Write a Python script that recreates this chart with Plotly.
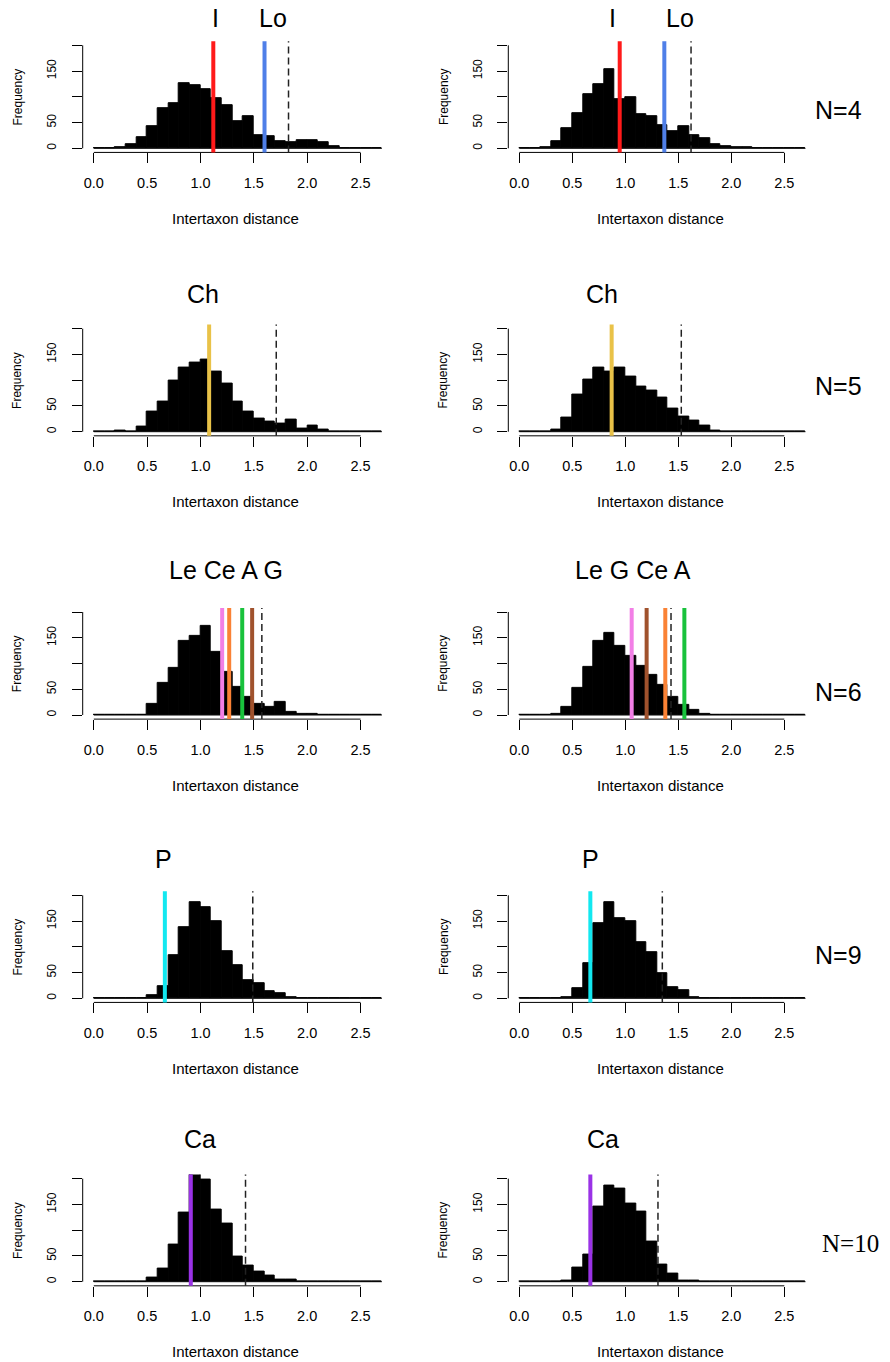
import plotly.graph_objects as go

# ---- data -------------------------------------------------------------
bin_edges = [0.0, 0.1, 0.2, 0.3, 0.4, 0.5, 0.6, 0.7, 0.8, 0.9, 1.0, 1.1, 1.2, 1.3,
             1.4, 1.5, 1.6, 1.7, 1.8, 1.9, 2.0, 2.1, 2.2, 2.3, 2.4, 2.5, 2.6, 2.7]

# counts per 0.1-wide bin (0.0-0.1 ... 2.6-2.7)
counts_n4_a = [0, 0, 2, 8, 21, 42, 77, 87, 126, 123, 114, 97, 83, 52, 63, 26, 24, 14, 11, 16, 16, 11, 5, 1, 0, 0, 0]
counts_n4_b = [0, 0, 2, 13, 40, 69, 105, 124, 153, 95, 100, 66, 63, 45, 34, 42, 26, 19, 8, 5, 2, 3, 0, 0, 0, 0, 0]
counts_n5_a = [0, 0, 2, 0, 9, 39, 59, 100, 125, 135, 141, 116, 94, 58, 40, 25, 19, 15, 23, 6, 11, 4, 0, 0, 0, 0, 0]
counts_n5_b = [0, 0, 1, 5, 27, 73, 102, 125, 117, 125, 108, 87, 79, 67, 44, 29, 22, 12, 2, 1, 0, 0, 0, 0, 0, 0, 0]
counts_n6_a = [0, 0, 0, 0, 1, 22, 63, 91, 143, 154, 174, 122, 84, 54, 35, 21, 15, 25, 7, 3, 3, 1, 0, 0, 0, 0, 0]
counts_n6_b = [0, 0, 0, 2, 16, 53, 93, 143, 159, 134, 114, 96, 78, 58, 35, 20, 9, 3, 0, 0, 0, 0, 0, 0, 0, 0, 0]
counts_n9_a = [0, 0, 0, 0, 0, 7, 24, 84, 139, 187, 177, 150, 92, 64, 35, 29, 13, 9, 3, 0, 0, 0, 0, 0, 0, 0, 0]
counts_n9_b = [0, 0, 0, 0, 2, 19, 68, 145, 186, 156, 150, 109, 90, 48, 21, 15, 3, 0, 0, 0, 0, 0, 0, 0, 0, 0, 0]
counts_n10_a = [0, 0, 0, 0, 0, 8, 25, 73, 134, 212, 199, 140, 112, 49, 32, 19, 11, 5, 4, 0, 0, 0, 0, 0, 0, 0, 0]
counts_n10_b = [0, 0, 0, 0, 2, 27, 53, 146, 186, 180, 151, 136, 78, 34, 16, 3, 2, 1, 0, 0, 0, 0, 0, 0, 0, 0, 0]

# observed taxon distances (label, value) per panel
taxa_n4_a = [("I", 1.12), ("Lo", 1.60)]
taxa_n4_b = [("I", 0.947), ("Lo", 1.368)]
taxa_n5_a = [("Ch", 1.081)]
taxa_n5_b = [("Ch", 0.871)]
taxa_n6_a = [("Le", 1.203), ("Ce", 1.269), ("A", 1.391), ("G", 1.484)]
taxa_n6_b = [("Le", 1.06), ("G", 1.201), ("Ce", 1.377), ("A", 1.557)]
taxa_n9_a = [("P", 0.666)]
taxa_n9_b = [("P", 0.67)]
taxa_n10_a = [("Ca", 0.909)]
taxa_n10_b = [("Ca", 0.67)]

# dashed threshold per panel
threshold = [1.825, 1.62, 1.71, 1.528, 1.575, 1.431, 1.49, 1.349, 1.422, 1.308]

titles_left = ["I", "Lo"], ["Ch"], ["Le Ce A G"], ["P"], ["Ca"]
titles_right = ["I", "Lo"], ["Ch"], ["Le G Ce A"], ["P"], ["Ca"]

row_labels = ["N=4", "N=5", "N=6", "N=9", "N=10"]

x_ticks = [0.0, 0.5, 1.0, 1.5, 2.0, 2.5]
y_ticks = [0, 50, 100, 150, 200]
y_ticktext = ["0", "50", "", "150", ""]

taxon_colors = {
    "I": "#FF1A1A", "Lo": "#4F7FE8", "Ch": "#E9C248", "Le": "#F27FE6",
    "Ce": "#FA8235", "A": "#19C23C", "G": "#A0522D", "P": "#12E8F0", "Ca": "#9A32E6",
}

# ---- layout geometry (pixels) ----------------------------------------
W, H = 890, 1362
FONT = "Liberation Sans"
col_axis_px = [82.7, 508.3]      # left edge of each column's plot region
col_unit_px = [106.7, 106.0]     # pixels per x unit
row_zero_px = [148.3, 431.7, 715.0, 998.3, 1281.7]  # y pixel of count 0
y_unit_px = 0.515                # pixels per count
XR = [-0.104, 2.704]
YR = [-8, 208]

title_pos = [
    ([215, 273], [612, 680], 18),
    ([203], [602], 294),
    ([226], [633], 570),
    ([163], [590], 859),
    ([200], [603], 1139),
]
label_pos = [(838, 110), (838, 386), (838, 692), (838, 955), (850, 1243)]

panels = [
    (counts_n4_a, taxa_n4_a), (counts_n4_b, taxa_n4_b),
    (counts_n5_a, taxa_n5_a), (counts_n5_b, taxa_n5_b),
    (counts_n6_a, taxa_n6_a), (counts_n6_b, taxa_n6_b),
    (counts_n9_a, taxa_n9_a), (counts_n9_b, taxa_n9_b),
    (counts_n10_a, taxa_n10_a), (counts_n10_b, taxa_n10_b),
]

bin_mids = [(a + b) / 2 for a, b in zip(bin_edges[:-1], bin_edges[1:])]


def px_x(p):
    return p / W


def px_y(p):
    return 1 - p / H


fig = go.Figure()
layout = dict(
    width=W, height=H, margin=dict(l=0, r=0, t=0, b=0),
    paper_bgcolor="white", plot_bgcolor="white", showlegend=False,
    font=dict(family=FONT, color="black"), bargap=0,
)
shapes, annotations = [], []

for i, (counts, taxa) in enumerate(panels):
    n = i + 1
    row, col = divmod(i, 2)
    xname = "x" if n == 1 else f"x{n}"
    yname = "y" if n == 1 else f"y{n}"
    xkey = "xaxis" if n == 1 else f"xaxis{n}"
    ykey = "yaxis" if n == 1 else f"yaxis{n}"

    x0 = col_axis_px[col]
    x1 = x0 + (XR[1] - XR[0]) * col_unit_px[col]
    zero = row_zero_px[row]
    top = zero - YR[1] * y_unit_px
    bot = zero - YR[0] * y_unit_px

    layout[xkey] = dict(
        domain=[px_x(x0), px_x(x1)], range=XR, anchor=yname,
        tickvals=x_ticks, ticktext=[f"{v:.1f}" for v in x_ticks],
        ticks="outside", ticklen=10, tickwidth=1, tickcolor="black",
        showline=False, showgrid=False, zeroline=False,
        tickfont=dict(size=14.5, family=FONT), ticklabelstandoff=7,
    )
    layout[ykey] = dict(
        domain=[px_y(bot), px_y(top)], range=YR, anchor=xname,
        tickvals=y_ticks, ticktext=y_ticktext, tickangle=-90,
        ticks="outside", ticklen=10, tickwidth=1, tickcolor="black",
        showline=False, showgrid=False, zeroline=False,
        tickfont=dict(size=12, family=FONT), ticklabelstandoff=11,
    )

    # histogram bars
    fig.add_trace(go.Bar(
        x=bin_mids, y=counts, width=0.1, xaxis=xname, yaxis=yname,
        marker=dict(color="black", line=dict(color="black", width=1)),
        hoverinfo="skip",
    ))
    # zero-count bins are drawn as a flat line along the baseline
    fig.add_trace(go.Scatter(
        x=[bin_edges[0], bin_edges[-1]], y=[0, 0], mode="lines",
        line=dict(color="black", width=1), xaxis=xname, yaxis=yname,
        hoverinfo="skip",
    ))

    # axis lines spanning first to last tick
    shapes.append(dict(type="line", xref=xname, yref=f"{yname} domain",
                       x0=x_ticks[0], x1=x_ticks[-1], y0=0, y1=0,
                       line=dict(color="black", width=1)))
    shapes.append(dict(type="line", xref=f"{xname} domain", yref=yname,
                       x0=0, x1=0, y0=y_ticks[0], y1=y_ticks[-1],
                       line=dict(color="black", width=1)))

    # observed taxon lines
    for name, val in taxa:
        shapes.append(dict(type="line", xref=xname, yref=f"{yname} domain",
                           x0=val, x1=val, y0=0, y1=1, layer="above",
                           line=dict(color=taxon_colors[name], width=4)))
    # dashed threshold
    shapes.append(dict(type="line", xref=xname, yref=f"{yname} domain",
                       x0=threshold[i], x1=threshold[i], y0=0, y1=1, layer="above",
                       line=dict(color="#222222", width=1.5, dash="7px,4px")))

    # axis titles
    annotations.append(dict(text="Intertaxon distance", xref="paper", yref="paper",
                            x=px_x((x0 + x1) / 2 + 3), y=px_y(zero + 70),
                            xanchor="center", yanchor="middle", showarrow=False,
                            font=dict(size=15, family=FONT)))
    annotations.append(dict(text="Frequency", xref="paper", yref="paper",
                            x=px_x(x0 - 65), y=px_y(zero - 100 * y_unit_px),
                            xanchor="center", yanchor="middle", showarrow=False,
                            textangle=-90, font=dict(size=12, family=FONT)))

    # panel title(s)
    names = (titles_left if col == 0 else titles_right)[row]
    xs = title_pos[row][col]
    for txt, xp in zip(names, xs):
        annotations.append(dict(text=txt, xref="paper", yref="paper",
                                x=px_x(xp), y=px_y(title_pos[row][2]),
                                xanchor="center", yanchor="middle", showarrow=False,
                                font=dict(size=25, family=FONT)))

# row labels on the right
for txt, (lx, ly) in zip(row_labels, label_pos):
    fam = "Liberation Serif" if txt == "N=10" else FONT
    annotations.append(dict(text=txt, xref="paper", yref="paper",
                            x=px_x(lx), y=px_y(ly), xanchor="center", yanchor="middle",
                            showarrow=False, font=dict(size=25, family=fam)))

layout["shapes"] = shapes
layout["annotations"] = annotations
fig.update_layout(**layout)
fig.write_html("out.html")
